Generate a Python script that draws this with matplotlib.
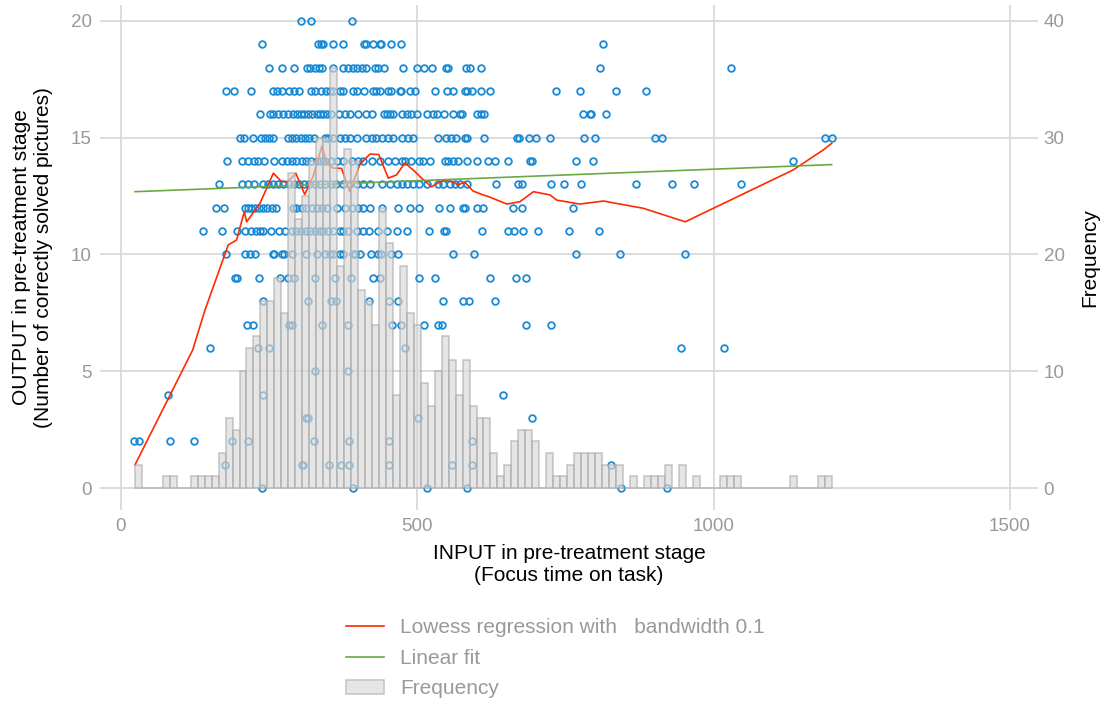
import numpy as np
import matplotlib.pyplot as plt
from matplotlib.patches import Patch
from matplotlib.lines import Line2D

plt.rcParams['font.family'] = ['Liberation Sans', 'DejaVu Sans']

# scatter: output score (rows) -> focus time values
rows = {
    20: [303, 321, 389],
    19: [238, 333, 337, 341, 358, 375, 410, 414, 425, 437, 439, 456, 472, 813],
    18: [250, 272, 292, 314, 319, 327, 334, 340, 357, 375, 383, 392, 399, 406, 413, 429,
         434, 444, 476, 500, 512, 524, 549, 551, 582, 589, 607, 808, 1029],
    17: [177, 191, 219, 256, 264, 272, 283, 292, 301, 321, 328, 337, 346, 353, 358, 369,
         375, 391, 398, 410, 425, 431, 437, 451, 455, 471, 472, 488, 496, 530, 550, 561,
         580, 584, 593, 607, 623, 734, 775, 835, 886],
    16: [235, 251, 257, 265, 274, 281, 291, 297, 304, 309, 316, 322, 330, 336, 341, 347,
         355, 367, 378, 387, 400, 414, 423, 443, 448, 454, 459, 474, 482, 490, 499, 516,
         527, 533, 545, 560, 572, 575, 600, 607, 612, 780, 791, 793, 818],
    15: [201, 207, 222, 236, 243, 250, 257, 281, 288, 296, 304, 311, 318, 326, 344, 350,
         358, 369, 378, 386, 399, 414, 423, 431, 440, 451, 459, 474, 485, 493, 535, 548,
         556, 565, 580, 583, 612, 669, 672, 689, 701, 723, 781, 800, 901, 912, 1188, 1200],
    14: [179, 205, 215, 224, 232, 242, 259, 272, 280, 288, 296, 305, 313, 321, 330, 337,
         345, 355, 364, 375, 389, 400, 409, 423, 437, 451, 462, 474, 479, 490, 502, 510,
         521, 547, 552, 561, 569, 584, 601, 620, 631, 653, 690, 693, 768, 797, 1133],
    13: [165, 205, 215, 224, 240, 248, 257, 265, 274, 283, 292, 300, 309, 318, 327, 336,
         344, 354, 363, 375, 386, 398, 409, 420, 440, 454, 465, 474, 482, 493, 503, 516,
         535, 544, 555, 563, 572, 583, 633, 670, 676, 725, 747, 776, 869, 929, 966, 1046],
    12: [161, 174, 210, 215, 220, 226, 233, 240, 246, 254, 261, 290, 296, 305, 313, 322,
         330, 339, 347, 364, 378, 389, 400, 409, 420, 440, 468, 488, 502, 537, 555, 577,
         580, 600, 611, 661, 677, 762],
    11: [138, 170, 196, 210, 219, 227, 234, 240, 253, 267, 277, 288, 296, 304, 312, 319,
         327, 336, 341, 350, 358, 369, 375, 383, 398, 409, 419, 434, 448, 465, 483, 520,
         545, 549, 609, 653, 663, 679, 704, 756, 806],
    10: [178, 210, 218, 226, 256, 258, 271, 275, 288, 313, 330, 344, 353, 358, 369, 375,
         392, 395, 404, 421, 434, 438, 455, 468, 561, 596, 768, 842, 952],
    9: [192, 195, 233, 268, 282, 292, 328, 361, 388, 426, 437, 502, 530, 623, 666, 684],
    8: [239, 316, 355, 363, 418, 453, 467, 543, 577, 588, 631],
    7: [213, 223, 283, 288, 339, 383, 457, 472, 512, 535, 541, 684, 725],
    6: [151, 232, 250, 479, 945, 1018],
    5: [328, 383],
    4: [80, 239, 645],
    3: [313, 315, 501, 694],
    2: [22, 30, 83, 123, 188, 214, 325, 385, 453, 592],
    1: [176, 305, 307, 351, 371, 385, 453, 559, 592, 827],
    0: [238, 392, 517, 584, 844, 921],
}

# lowess curve (bandwidth 0.1)
lowess_x = [23.6, 121, 141.7, 181, 195, 208, 212, 234.5, 257, 271, 282, 295, 310, 324, 339,
            347, 358, 372, 386, 403, 420, 435, 451, 465, 479, 493, 510, 524, 544, 561, 569,
            580, 594, 611, 620, 651, 673, 696, 724, 735, 774, 814, 881, 952, 1134, 1185, 1199]
lowess_y = [0.99, 5.91, 7.62, 10.41, 10.62, 11.83, 11.40, 12.19, 13.48, 13.12, 13.12, 13.48,
            12.57, 13.33, 14.64, 13.91, 13.70, 13.69, 12.70, 13.86, 14.30, 14.28, 13.27, 13.41,
            13.92, 13.62, 13.20, 12.90, 13.19, 13.10, 12.98, 13.10, 12.72, 12.55, 12.48, 12.16,
            12.26, 12.69, 12.55, 12.33, 12.16, 12.29, 11.98, 11.40, 13.62, 14.48, 14.76]

# linear fit end points
fit_x = [23.6, 1199]
fit_y = [12.69, 13.85]

# histogram of focus time
bin_start = 23.6
bin_width = 11.76
hist_counts = [2, 0, 0, 0, 1, 1, 0, 0, 1, 1,
               1, 1, 3, 6, 5, 10, 12, 13, 16, 16,
               18, 15, 27, 23, 25, 28, 30, 30, 36, 19,
               29, 28, 17, 16, 14, 24, 21, 8, 19, 15,
               14, 9, 7, 10, 13, 11, 8, 11, 7, 6,
               6, 3, 1, 2, 4, 5, 5, 4, 0, 3,
               1, 1, 2, 3, 3, 3, 3, 2, 2, 2,
               0, 1, 0, 1, 1, 1, 2, 0, 2, 0,
               1, 0, 0, 0, 1, 1, 1, 0, 0, 0,
               0, 0, 0, 0, 1, 0, 0, 0, 1, 1]

blue = '#1a8ad4'
red = '#ff2a00'
green = '#6aa842'
grid_c = '#d9d9d9'
tick_c = '#999999'

fig = plt.figure(figsize=(11.01, 7.02), dpi=100)
ax = fig.add_axes([100 / 1101, 1 - 510 / 702, 938 / 1101, 505 / 702])

sx, sy = [], []
for k, vals in rows.items():
    sx += vals
    sy += [k] * len(vals)
ax.plot(sx, sy, 'o', ms=4.8, mfc='none', mec=blue, mew=1.3, zorder=3)
ax.plot(lowess_x, lowess_y, color=red, lw=1.2, zorder=4)
ax.plot(fit_x, fit_y, color=green, lw=1.2, zorder=4)

ax.set_xlim(-35.4, 1547.2)
ax.set_ylim(-0.942, 20.685)
ax.set_xticks([0, 500, 1000, 1500])
ax.set_yticks([0, 5, 10, 15, 20])
ax.grid(True, color=grid_c, lw=1.3)
ax.set_axisbelow(True)
for s in ax.spines.values():
    s.set_visible(False)
ax.tick_params(length=0, labelsize=13.5, labelcolor=tick_c, pad=6)
ax.set_xlabel('INPUT in pre-treatment stage\n(Focus time on task)', fontsize=15,
              labelpad=6, linespacing=1.25)
ax.set_ylabel('OUTPUT in pre-treatment stage\n(Number of correctly solved pictures)',
              fontsize=15, labelpad=13)

ax2 = ax.twinx()
edges = bin_start + bin_width * np.arange(len(hist_counts))
ax2.bar(edges, hist_counts, width=bin_width, align='edge', color='#d8d8d8',
        edgecolor='#a8a8a8', lw=1.1, alpha=0.65, zorder=2)
ax2.set_ylim(-1.884, 41.37)
ax2.set_yticks([0, 10, 20, 30, 40])
for s in ax2.spines.values():
    s.set_visible(False)
ax2.tick_params(length=0, labelsize=13.5, labelcolor=tick_c, pad=4)
ax2.set_ylabel('Frequency', fontsize=15, labelpad=11)

handles = [Line2D([], [], color=red, lw=1.2),
           Line2D([], [], color=green, lw=1.2),
           Patch(facecolor='#e6e6e6', edgecolor='#c4c4c4', lw=1.1)]
labels = ['Lowess regression with   bandwidth 0.1', 'Linear fit', 'Frequency']
fig.legend(handles, labels, loc='upper left', bbox_to_anchor=(338 / 1101, 1 - 610 / 702),
           frameon=False, fontsize=15, labelcolor=tick_c, handlelength=1.8,
           handleheight=0.6, handletextpad=0.8, labelspacing=0.55, borderaxespad=0)

fig.savefig('out.png', dpi=100)
